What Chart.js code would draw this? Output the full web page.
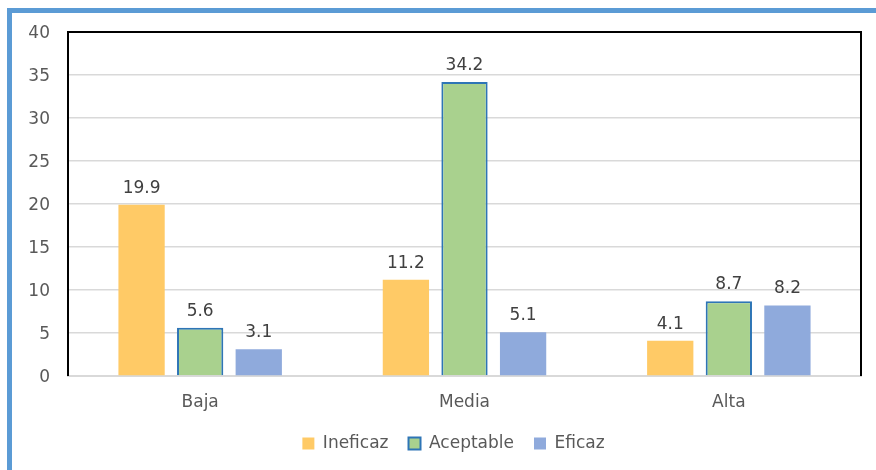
<!DOCTYPE html>
<html>
<head>
<meta charset="utf-8">
<script src="https://cdn.jsdelivr.net/npm/chart.js@4/dist/chart.umd.min.js"></script>
<style>
  html, body { margin: 0; padding: 0; background: #fff; }
  #wrap { position: relative; width: 876px; height: 470px; }
</style>
</head>
<body>
<div id="wrap"><canvas id="barchart"></canvas></div>
<script>
var categories = ['Baja', 'Media', 'Alta'];
var ineficaz = [19.9, 11.2, 4.1];
var aceptable = [5.6, 34.2, 8.7];
var eficaz = [3.1, 5.1, 8.2];
var seriesNames = ['Ineficaz', 'Aceptable', 'Eficaz'];

var fontFam = "'DejaVu Sans', Verdana, sans-serif";

// blue frame (left + top) and black plot border
var framePlugin = {
  id: 'frame',
  afterLayout: function(chart) {
    // legend sits a bit right of centre in the original
    chart.legend.left += 17;
    chart.legend.right += 17;
  },
  beforeDraw: function(chart) {
    var ctx = chart.ctx;
    ctx.save();
    ctx.fillStyle = '#5B9BD5';
    ctx.fillRect(7, 8, 876, 5);
    ctx.fillRect(7, 8, 5, 470);
    ctx.restore();
  },
  afterDatasetsDraw: function(chart) {
    var ctx = chart.ctx;
    var a = chart.chartArea;
    ctx.save();
    ctx.strokeStyle = '#000';
    ctx.lineWidth = 2;
    ctx.beginPath();
    ctx.moveTo(a.left, a.bottom);
    ctx.lineTo(a.left, a.top);
    ctx.lineTo(a.right, a.top);
    ctx.lineTo(a.right, a.bottom);
    ctx.stroke();
    // value labels
    ctx.fillStyle = '#404040';
    ctx.font = '17px ' + fontFam;
    ctx.textAlign = 'center';
    ctx.textBaseline = 'alphabetic';
    chart.data.datasets.forEach(function(ds, i) {
      chart.getDatasetMeta(i).data.forEach(function(bar, j) {
        ctx.fillText(ds.data[j].toFixed(1), bar.x, bar.y - 12);
      });
    });
    ctx.restore();
  }
};

const ch = document.getElementById('barchart').getContext('2d');
const barchart = new Chart(ch, {
  type: 'bar',
  data: {
    labels: categories,
    datasets: [{
      label: seriesNames[0],
      data: ineficaz,
      backgroundColor: '#FFCA66',
      borderWidth: 0
    }, {
      label: seriesNames[1],
      data: aceptable,
      backgroundColor: '#A9D18E',
      borderColor: '#2E75B6',
      borderWidth: 2
    }, {
      label: seriesNames[2],
      data: eficaz,
      backgroundColor: '#8FAADC',
      borderWidth: 0
    }]
  },
  options: {
    responsive: true,
    maintainAspectRatio: false,
    animation: false,
    categoryPercentage: 0.665,
    barPercentage: 0.79,
    layout: { padding: { left: 12, right: 15, top: 32, bottom: 8 } },
    scales: {
      x: {
        grid: { display: false },
        border: { color: '#D9D9D9', width: 2 },
        ticks: { color: '#595959', font: { family: fontFam, size: 17 }, padding: 8 },
        afterFit: function(s) { s.height = 39; }
      },
      y: {
        min: 0, max: 40,
        ticks: { stepSize: 5, color: '#595959', font: { family: fontFam, size: 17 }, padding: 18, labelOffset: 2 },
        grid: { color: '#D9D9D9', lineWidth: 1.5, drawTicks: false },
        border: { display: false },
        afterFit: function(s) { s.width = 56; }
      }
    },
    plugins: {
      legend: {
        position: 'bottom',
        labels: {
          boxWidth: 12, boxHeight: 12, padding: 20,
          color: '#595959',
          font: { family: fontFam, size: 17 }
        }
      },
      tooltip: { enabled: false }
    }
  },
  plugins: [framePlugin]
});
</script>
</body>
</html>
